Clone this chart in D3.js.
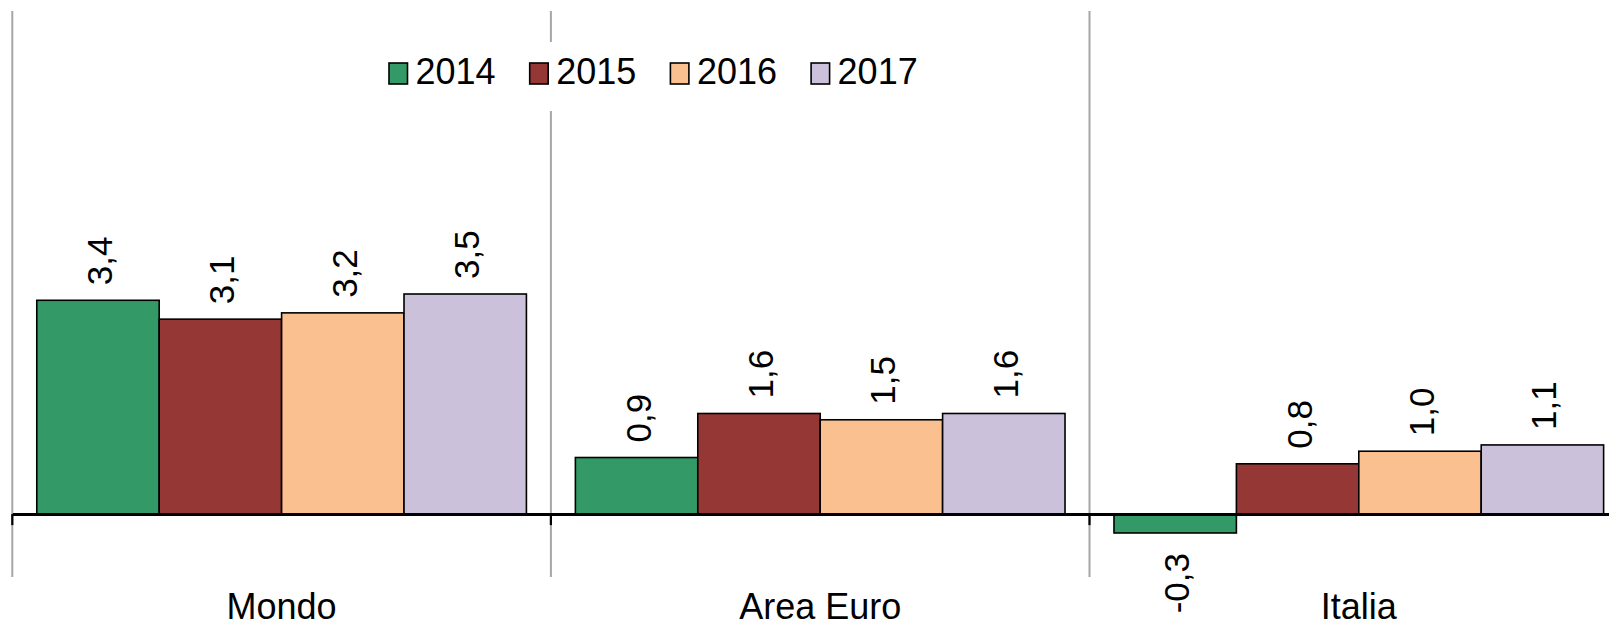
<!DOCTYPE html>
<html>
<head>
<meta charset="utf-8">
<script src="https://cdn.jsdelivr.net/npm/d3@7"></script>
<style>
  html, body { margin: 0; padding: 0; background: #fff; overflow: hidden; }
  svg { display: block; font-family: "Liberation Sans", Arial, sans-serif; }
</style>
</head>
<body>
<svg id="chart" width="1609" height="627"></svg>
<script>
// ---- data ----
const categories = ["Mondo", "Area Euro", "Italia"];
const years = ["2014", "2015", "2016", "2017"];
const values2014 = [3.4, 0.9, -0.3];
const values2015 = [3.1, 1.6, 0.8];
const values2016 = [3.2, 1.5, 1.0];
const values2017 = [3.5, 1.6, 1.1];
const colors = ["#339966", "#953735", "#FAC090", "#CCC1DA"];
const yDomain = [-1, 8];

const seriesValues = [values2014, values2015, values2016, values2017];
const rows = [];
categories.forEach((c, ci) => {
  years.forEach((y, yi) => rows.push({ cat: c, year: y, yi, value: seriesValues[yi][ci] }));
});

// ---- layout ----
const svg = d3.select("#chart");
const plotLeft = 12.3, catWidth = 538.6;
const x0 = d3.scaleBand().domain(categories)
  .range([plotLeft, plotLeft + catWidth * categories.length])
  .paddingInner(0).paddingOuter(0);
const x1 = d3.scaleBand().domain(years)
  .range([0, x0.bandwidth()])
  .paddingInner(0).paddingOuter(0.2);
const y = d3.scaleLinear().domain(yDomain).range([577, 11]);

const locale = d3.formatLocale({ decimal: ",", thousands: ".", grouping: [3], currency: ["", "€"], minus: "-" });
const fmt = locale.format(".1f");

// vertical category separators (gray)
const boundaries = categories.map(c => x0(c));
svg.append("g").selectAll("line").data(boundaries).join("line")
  .attr("x1", d => d).attr("x2", d => d)
  .attr("y1", y(yDomain[1])).attr("y2", y(yDomain[0]))
  .attr("stroke", "#a6a6a6").attr("stroke-width", 2);

// bars
svg.append("g").selectAll("rect").data(rows).join("rect")
  .attr("x", d => x0(d.cat) + x1(d.year))
  .attr("width", x1.bandwidth())
  .attr("y", d => y(Math.max(0, d.value)))
  .attr("height", d => Math.abs(y(d.value) - y(0)))
  .attr("fill", d => colors[d.yi])
  .attr("stroke", "#000").attr("stroke-width", 1.6);

// x axis line at zero
const xAxis = d3.axisBottom(x0).tickSize(0).tickFormat("");
const axisG = svg.append("g").attr("transform", `translate(0,${y(0)})`).call(xAxis);
axisG.select(".domain").attr("stroke", "#000").attr("stroke-width", 3);
axisG.selectAll(".tick").remove();
// ticks between categories
axisG.selectAll("line.sep").data(boundaries).join("line").attr("class", "sep")
  .attr("x1", d => d).attr("x2", d => d).attr("y1", 0).attr("y2", 11)
  .attr("stroke", "#000").attr("stroke-width", 2.2);

// category labels
svg.append("g").selectAll("text").data(categories).join("text")
  .attr("x", d => x0(d) + x0.bandwidth() / 2)
  .attr("y", 619)
  .attr("text-anchor", "middle")
  .attr("font-size", 36)
  .attr("fill", "#000")
  .text(d => d);

// data labels (rotated)
svg.append("g").selectAll("text").data(rows).join("text")
  .attr("transform", d => {
    const cx = x0(d.cat) + x1(d.year) + x1.bandwidth() / 2;
    const yy = d.value >= 0 ? y(d.value) - 15 : y(d.value) + 20;
    return `translate(${cx},${yy}) rotate(-90)`;
  })
  .attr("dy", "0.4em")
  .attr("text-anchor", d => d.value >= 0 ? "start" : "end")
  .attr("font-size", 35)
  .attr("fill", "#000")
  .text(d => fmt(d.value));

// legend
const legend = svg.append("g");
legend.append("rect").attr("x", 372).attr("y", 42).attr("width", 545).attr("height", 69).attr("fill", "#fff");
const legendX0 = 389, legendStep = 140.7;
const items = legend.selectAll("g.item").data(years).join("g").attr("class", "item")
  .attr("transform", (d, i) => `translate(${legendX0 + i * legendStep},0)`);
items.append("rect").attr("x", 0).attr("y", 63).attr("width", 18.5).attr("height", 21)
  .attr("fill", (d, i) => colors[i]).attr("stroke", "#000").attr("stroke-width", 1.6);
items.append("text").attr("x", 26.5).attr("y", 84).attr("font-size", 36).attr("fill", "#000").text(d => d);
</script>
</body>
</html>
